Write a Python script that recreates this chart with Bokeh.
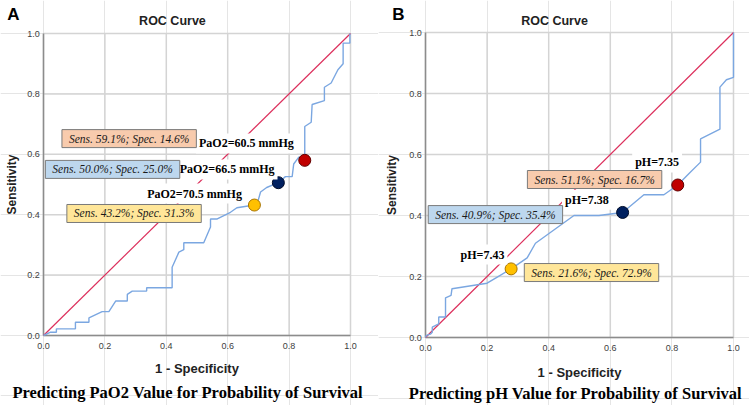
from bokeh.plotting import figure
from bokeh.models import Range1d, Label
from bokeh.layouts import row
from bokeh.embed import file_html
from bokeh.resources import INLINE
from bokeh.core.properties import value
import math

# ---------------- data ----------------
ticks = [0.0, 0.2, 0.4, 0.6, 0.8, 1.0]
tick_labels = ["0.0", "0.2", "0.4", "0.6", "0.8", "1.0"]

a_fpr = [0, 0.023, 0.042, 0.042, 0.104, 0.104, 0.148, 0.148, 0.191, 0.213,
         0.235, 0.273, 0.273, 0.289, 0.336, 0.336, 0.419, 0.419, 0.441, 0.457,
         0.457, 0.522, 0.544, 0.544, 0.566, 0.609, 0.63, 0.687, 0.70, 0.707,
         0.727, 0.765, 0.788, 0.81, 0.815, 0.831, 0.851, 0.851, 0.872, 0.875,
         0.915, 0.915, 0.937, 0.959, 0.976, 0.976, 0.998, 0.998]
a_tpr = [0, 0.011, 0.011, 0.022, 0.022, 0.044, 0.044, 0.058, 0.079, 0.079,
         0.114, 0.114, 0.136, 0.147, 0.147, 0.158, 0.158, 0.226, 0.276, 0.284,
         0.307, 0.307, 0.359, 0.386, 0.386, 0.408, 0.423, 0.432, 0.45, 0.475,
         0.49, 0.506, 0.526, 0.526, 0.568, 0.59, 0.59, 0.692, 0.706, 0.765,
         0.778, 0.822, 0.836, 0.88, 0.90, 0.968, 0.968, 1.0]
a_pts_x = [0.687, 0.765, 0.851]
a_pts_y = [0.432, 0.506, 0.58]
a_boxes = ["Sens. 43.2%; Spec. 31.3%", "Sens. 50.0%; Spec. 25.0%", "Sens. 59.1%; Spec. 14.6%"]
a_cuts = ["PaO2=70.5 mmHg", "PaO2=66.5 mmHg", "PaO2=60.5 mmHg"]

b_fpr = [0, 0.003, 0.016, 0.022, 0.022, 0.043, 0.043, 0.065, 0.065, 0.083,
         0.086, 0.2, 0.233, 0.278, 0.33, 0.357, 0.482, 0.563, 0.64, 0.709,
         0.774, 0.819, 0.854, 0.893, 0.893, 0.956, 0.956, 0.977, 1.0, 1.0]
b_tpr = [0, 0.007, 0.011, 0.017, 0.034, 0.045, 0.067, 0.067, 0.130, 0.138,
         0.160, 0.178, 0.198, 0.225, 0.261, 0.309, 0.40, 0.40, 0.41, 0.468,
         0.468, 0.50, 0.536, 0.575, 0.651, 0.683, 0.821, 0.845, 0.853, 1.0]
b_pts_x = [0.278, 0.64, 0.819]
b_pts_y = [0.225, 0.41, 0.50]
b_boxes = ["Sens. 21.6%; Spec. 72.9%", "Sens. 40.9%; Spec. 35.4%", "Sens. 51.1%; Spec. 16.7%"]
b_cuts = ["pH=7.43", "pH=7.38", "pH=7.35"]

diag = [0.0, 1.0]

# ---------------- styles ----------------
pt_fill = ["#FFC000", "#002060", "#C00000"]
pt_line = ["#A87400", "#000c28", "#600000"]
box_fill = ["#FFE699", "#BDD7EE", "#F8CBAD"]
SANS = "Liberation Sans"
SERIF = "Liberation Serif"
GRID = "#d4d4d4"
AXIS = "#8c8c8c"


def make_panel(width, height, xr, yr, fpr, tpr, px, py, boxes, box_pos,
               cuts, cut_pos, letter, letter_pos, title_pos, ylab_pos, xlab_pos,
               caption, cap_pos, xtick_y, ytick_x):
    p = figure(width=width, height=height, output_backend="svg", toolbar_location=None,
               x_range=Range1d(*xr), y_range=Range1d(*yr),
               x_axis_location=None, y_axis_location=None,
               min_border=0, title=None)
    p.outline_line_color = None
    p.background_fill_color = "white"
    p.border_fill_color = "white"

    lo, hi = diag
    # grid lines at the tick positions
    p.segment(x0=ticks, y0=[lo] * len(ticks), x1=ticks, y1=[hi] * len(ticks),
              line_color=GRID, line_width=1.5)
    p.segment(x0=[lo] * len(ticks), y0=ticks, x1=[hi] * len(ticks), y1=ticks,
              line_color=GRID, line_width=1.5)
    # axis lines (left & bottom)
    p.segment(x0=[lo, lo], y0=[lo, lo], x1=[hi, lo], y1=[lo, hi],
              line_color=AXIS, line_width=1.5)
    # tick labels
    p.text(x=ticks, y=[xtick_y] * len(ticks), text=tick_labels, text_font=value(SANS),
           text_font_size="9px", text_color="#404040", text_align="center",
           text_baseline="middle")
    p.text(x=[ytick_x] * len(ticks), y=ticks, text=tick_labels, text_font=value(SANS),
           text_font_size="9px", text_color="#404040", text_align="right",
           text_baseline="middle")

    p.line(diag, diag, line_color="#DC2F5C", line_width=1.2)
    p.line(fpr, tpr, line_color="#7BA7E1", line_width=1.4)

    for t, (cx, cy) in zip(cuts, cut_pos):
        p.add_layout(Label(x=cx, y=cy, text=t, text_font=SERIF, text_font_style="bold",
                           text_font_size="12px", text_color="#000000",
                           text_align="center", text_baseline="middle",
                           background_fill_color="white", padding=3))
    for t, (cx, cy), fc in zip(boxes, box_pos, box_fill):
        p.add_layout(Label(x=cx, y=cy, text=t, text_font=SERIF, text_font_style="italic",
                           text_font_size="11.5px", text_color="#1a1a1a",
                           text_align="center", text_baseline="middle",
                           background_fill_color=fc, border_line_color="#7a7a7a",
                           border_line_width=1, padding=(7, 3)))

    p.scatter(px, py, size=12, fill_color=pt_fill, line_color=pt_line, line_width=1)

    p.text(x=[letter_pos[0]], y=[letter_pos[1]], text=[letter], text_font=value(SANS),
           text_font_style="bold", text_font_size="17px", text_color="#000000",
           text_align="center", text_baseline="middle")
    p.text(x=[title_pos[0]], y=[title_pos[1]], text=["ROC Curve"], text_font=value(SANS),
           text_font_style="bold", text_font_size="12.5px", text_color="#222222",
           text_align="center", text_baseline="middle")
    p.text(x=[ylab_pos[0]], y=[ylab_pos[1]], text=["Sensitivity"], text_font=value(SANS),
           text_font_style="bold", text_font_size="12px", text_color="#222222",
           angle=math.pi / 2, text_align="center", text_baseline="middle")
    p.text(x=[xlab_pos[0]], y=[xlab_pos[1]], text=["1 - Specificity"], text_font=value(SANS),
           text_font_style="bold", text_font_size="13px", text_color="#222222",
           text_align="center", text_baseline="middle")
    p.text(x=[cap_pos[0]], y=[cap_pos[1]], text=[caption], text_font=value(SERIF),
           text_font_style="bold", text_font_size="16.5px", text_color="#000000",
           text_align="center", text_baseline="middle")
    return p


# panel A frame: page x 43..350, y 33..335 ; figure spans x 0..378, y 0..405
pA = make_panel(378, 405,
                (-43 / 307, (378 - 43) / 307), ((335 - 405) / 302, 335 / 302),
                a_fpr, a_tpr, a_pts_x, a_pts_y,
                a_boxes, [(0.295, 0.404), (0.225, 0.55), (0.279, 0.652)],
                a_cuts, [(0.492, 0.47), (0.598, 0.55), (0.661, 0.636)],
                "A", (-0.098, 1.063), (0.42, 1.04), (-0.104, 0.5), (0.50, -0.109),
                "Predicting PaO2 Value for Probability of Survival", (0.47, -0.189),
                -0.034, -0.012)

# panel B frame: page x 425..733, y 32..337 ; figure spans x 378..749
pB = make_panel(371, 405,
                ((378 - 425) / 308, (749 - 425) / 308), ((337 - 405) / 305, 337 / 305),
                b_fpr, b_tpr, b_pts_x, b_pts_y,
                b_boxes, [(0.539, 0.213), (0.227, 0.403), (0.549, 0.518)],
                b_cuts, [(0.185, 0.272), (0.524, 0.452), (0.752, 0.574)],
                "B", (-0.088, 1.059), (0.419, 1.039), (-0.11, 0.5), (0.50, -0.115),
                "Predicting pH Value for Probability of Survival", (0.487, -0.184),
                -0.034, -0.012)

layout = row(pA, pB)
open("out.html", "w").write(file_html(layout, INLINE))
